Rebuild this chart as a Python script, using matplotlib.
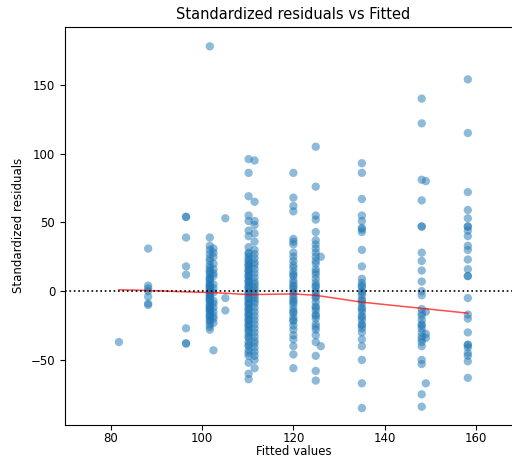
import matplotlib
matplotlib.use("Agg")
import matplotlib.pyplot as plt
import numpy as np

# fitted levels and the standardized residuals observed at each level
fitted_levels = [81.8, 88.2, 96.5, 101.7, 102.5, 105.1, 110.2, 111.5,
                 120.0, 124.9, 126.0, 135.0, 148.1, 149.0, 158.2]

res_818 = [-37]
res_882 = [31, 4, 2, 0, -4, -9, -10]
res_965 = [54, 54, 39, 18, 12, -27, -38, -38]
res_1017 = [178, 39, 33, 30, 27, 22, 19, 17, 14, 12, 10, 8, 6, 4, 3, 2, 1, 0,
            -1, -2, -3, -5, -6, -8, -10, -12, -13, -15, -17, -19, -21, -24,
            -26, -28, 24, 15, 9, 5, -4, -7, -11, -14, -18, -22]
res_1025 = [31, 25, 20, 16, 11, 5, -1, -7, -12, -18, -23, -43, 28, 13, 2, -9,
            -15, -20]
res_1051 = [53, -5, -14]
res_1102 = [96, 86, 69, 55, 51, 44, 40, 32, 28, 25, 22, 20, 18, 16, 14, 12,
            10, 8, 6, 4, 2, 0, -2, -4, -6, -8, -10, -12, -14, -16, -18, -20,
            -22, -24, -26, -28, -31, -34, -37, -40, -43, -47, -52, -60, -64,
            27, 23, 19, 15, 11, 7, 3, -1, -5, -9, -13, -17, -21, -25, -29,
            -33, -39, -45]
res_1115 = [95, 65, 51, 48, 42, 36, 30, 24, 19, 13, 7, 3, -1, -5, -9, -15,
            -21, -27, -33, -38, -44, -50, -56, 27, 21, 16, 10, 5, 1, -3, -7,
            -12, -18, -24, -30, -36, -41, -47]
res_1200 = [86, 68, 62, 58, 38, 36, 34, 28, 22, 17, 14, 11, 8, 6, 3, 1, -1,
            -3, -5, -8, -10, -13, -16, -19, -22, -25, -28, -32, -40, -46, -56,
            25, 19, 12, 4, -7, -15, -21, -35]
res_1249 = [105, 76, 55, 52, 43, 37, 34, 31, 28, 25, 20, 16, 12, 9, 6, 3, 0,
            -2, -5, -8, -11, -14, -17, -20, -24, -28, -32, -47, -58, -65,
            22, 14, 4, -4, -12, -18, -26, -37]
res_1260 = [25, -40]
res_1350 = [93, 86, 67, 55, 51, 46, 45, 43, 30, 18, 9, 6, 3, 0, -3, -6, -9,
            -12, -15, -18, -21, -24, -27, -30, -35, -40, -50, -67, -85,
            4, -1, -7, -13, -19, -25]
res_1481 = [140, 122, 81, 66, 47, 47, 28, 22, 15, 7, 0, -3, -13, -18, -21,
            -24, -27, -30, -33, -37, -40, -50, -53, -75, -84, -16, -25, -35]
res_1490 = [80, -15, -31, -34, -67]
res_1582 = [154, 115, 72, 59, 53, 47, 47, 44, 40, 33, 30, 23, 16, 11, 11, -5,
            -17, -20, -30, -39, -39, -41, -45, -47, -51, -63]

residual_groups = [res_818, res_882, res_965, res_1017, res_1025, res_1051,
                   res_1102, res_1115, res_1200, res_1249, res_1260, res_1350,
                   res_1481, res_1490, res_1582]

# smoothed trend through the residuals
lowess_x = [81.8, 88.2, 96.5, 101.7, 105.1, 110.2, 120.0, 124.9, 135.0, 148.1, 158.2]
lowess_y = [1.0, 0.5, -0.5, -1.0, -1.5, -2.5, -2.0, -3.0, -8.0, -12.5, -16.0]

fitted = np.concatenate([[f] * len(r) for f, r in zip(fitted_levels, residual_groups)])
residuals = np.concatenate(residual_groups)

fig = plt.figure(figsize=(5.12, 4.59), dpi=100)
ax = fig.add_axes([0.127, 0.075, 0.892, 0.866])

ax.scatter(fitted, residuals, s=36, color='C0', alpha=0.5, edgecolors='none')
ax.plot(lowess_x, lowess_y, color='red', alpha=0.7, lw=1.1)
ax.axhline(y=0, color='black', linestyle=':', lw=1.2)

ax.set_xlim(70, 170)
ax.set_ylim(-97, 192)
ax.set_xticks([80, 100, 120, 140, 160])
ax.set_yticks([-50, 0, 50, 100, 150])
ax.tick_params(labelsize=8.5)
ax.tick_params(axis='x', pad=2)
ax.set_title('Standardized residuals vs Fitted', fontsize=10.5)
ax.set_xlabel('Fitted values', fontsize=8.5, labelpad=0)
ax.set_ylabel('Standardized residuals', fontsize=8.5)

fig.savefig('out.png', dpi=100)
